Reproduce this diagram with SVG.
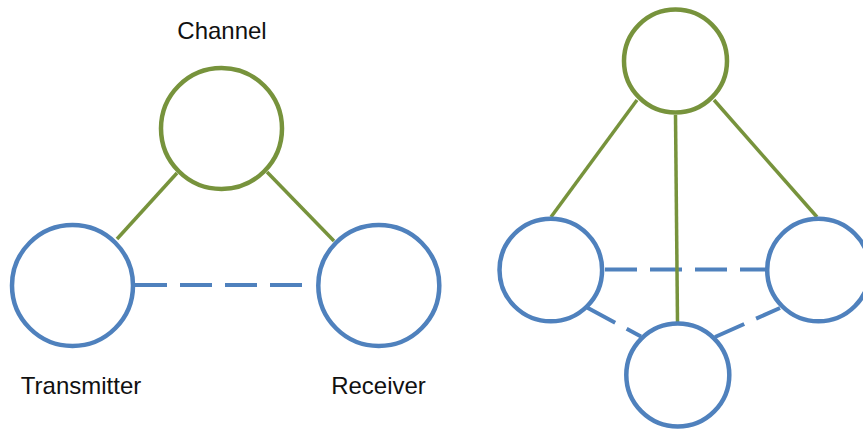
<svg xmlns="http://www.w3.org/2000/svg" width="863" height="430" viewBox="0 0 863 430">
  <style>
    .node { fill: #ffffff; stroke-width: 4.5; }
    .green { stroke: #77933C; }
    .blue { stroke: #4F81BD; }
    .link { fill: none; stroke: #77933C; stroke-width: 3.5; }
    .dash { fill: none; stroke: #4F81BD; stroke-width: 4; stroke-dasharray: 32 13; }
    .label { font-family: "Liberation Sans", Arial, sans-serif; font-size: 24px; fill: #111111; text-anchor: middle; }
  </style>
  <rect width="863" height="430" fill="#ffffff"/>

  <!-- connectors -->
  <g id="connectors">
    <!-- left: transmitter / channel / receiver -->
    <line class="dash" x1="135" y1="285" x2="304" y2="285"/>
    <line class="link" x1="117" y1="239" x2="177" y2="173"/>
    <line class="link" x1="267" y1="172" x2="334" y2="241"/>
    <!-- right: shared channel with three terminals -->
    <line class="dash" x1="605" y1="269.5" x2="766" y2="269.5"/>
    <line class="dash" x1="587" y1="307.5" x2="641" y2="336.5"/>
    <line class="dash" x1="715" y1="337" x2="780" y2="308"/>
    <line class="link" x1="637" y1="100" x2="551" y2="217"/>
    <line class="link" x1="714" y1="100" x2="817" y2="217"/>
    <line class="link" x1="675.5" y1="115" x2="677.5" y2="322"/>
  </g>

  <!-- left diagram -->
  <g id="channel">
    <circle class="node green" cx="221.5" cy="128.5" r="60.5"/>
    <text class="label" x="222" y="39">Channel</text>
  </g>
  <g id="transmitter">
    <circle class="node blue" cx="72.5" cy="285.5" r="60.5"/>
    <text class="label" x="81" y="394">Transmitter</text>
  </g>
  <g id="receiver">
    <circle class="node blue" cx="378.8" cy="285.5" r="60.5"/>
    <text class="label" x="378.5" y="394">Receiver</text>
  </g>

  <!-- right diagram -->
  <g id="hub">
    <circle class="node green" cx="675.5" cy="61" r="51.5"/>
  </g>
  <g id="node-left">
    <circle class="node blue" cx="550.8" cy="270" r="51.3"/>
  </g>
  <g id="node-right">
    <circle class="node blue" cx="818.5" cy="270" r="51.3"/>
  </g>
  <g id="node-bottom">
    <circle class="node blue" cx="677.8" cy="375" r="51.5"/>
  </g>
</svg>
